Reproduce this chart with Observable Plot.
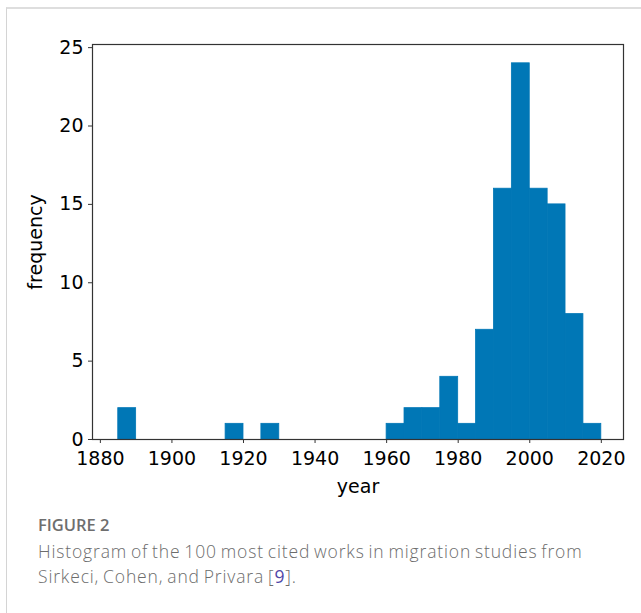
<!DOCTYPE html>
<html>
<head>
<meta charset="utf-8">
<script src="https://cdn.jsdelivr.net/npm/d3@7"></script>
<script src="https://cdn.jsdelivr.net/npm/@observablehq/plot@0.6"></script>
<style>
  html, body { margin: 0; padding: 0; background: #fff; }
  #card { position: absolute; left: 6px; top: 7px; width: 700px; height: 700px;
          border-left: 1px solid #d4d4d4; border-top: 2px solid #dedede; }
  #chart { position: absolute; left: 0; top: 0; }
  #caption { position: absolute; left: 38px; top: 513px; width: 600px;
             font-family: "Open Sans", Lato, sans-serif; color: #7a7a7a; }
  #caption .fig { font-size: 16.5px; font-weight: 600; color: #6e6e6e; line-height: 24px; }
  #caption .txt { font-size: 17.5px; font-weight: 300; line-height: 25px; letter-spacing: 0.85px; word-spacing: -1.5px; margin-top: 2px; color: #6c6c6c; }
  #caption .ref { color: #4f45a8; font-weight: 400; }
</style>
</head>
<body>
<div id="card"></div>
<div id="chart"></div>
<div id="caption">
  <div class="fig">FIGURE 2</div>
  <div class="txt">Histogram of the 100 most cited works in migration studies from<br>Sirkeci, Cohen, and Privara [<span class="ref">9</span>].</div>
</div>
<script>
// Histogram bins (start year of each 5-year bin) and counts
const binStarts = [1885, 1890, 1895, 1900, 1905, 1910, 1915, 1920, 1925, 1930, 1935, 1940, 1945, 1950, 1955,
                   1960, 1965, 1970, 1975, 1980, 1985, 1990, 1995, 2000, 2005, 2010, 2015];
const counts    = [2, 0, 0, 0, 0, 0, 1, 0, 1, 0, 0, 0, 0, 0, 0,
                   1, 2, 2, 4, 1, 7, 16, 24, 16, 15, 8, 1];
const binWidth = 5;
const xTicks = [1880, 1900, 1920, 1940, 1960, 1980, 2000, 2020];
const yTicks = [0, 5, 10, 15, 20, 25];

const bins = binStarts.map((s, i) => ({x1: s, x2: s + binWidth, n: counts[i]}));

const chart = Plot.plot({
  width: 641,
  height: 500,
  marginLeft: 92,
  marginRight: 18,
  marginTop: 44,
  marginBottom: 61,
  style: {fontFamily: "DejaVu Sans", fontSize: "19px", color: "#000", background: "transparent"},
  x: {domain: [1877.8, 2026.2]},
  y: {domain: [0, 25.2]},
  marks: [
    Plot.rectY(bins.filter(d => d.n > 0), {x1: "x1", x2: "x2", y: "n", fill: "#0077b6", stroke: "#0077b6", strokeWidth: 0.8}),
    Plot.frame({stroke: "#333", strokeWidth: 1.2}),
    Plot.axisX({ticks: xTicks, tickFormat: d => String(d), tickSize: 4, tickPadding: 8,
                label: "year", labelAnchor: "center", labelArrow: "none", labelOffset: 53, stroke: "#333"}),
    Plot.axisY({ticks: yTicks, tickFormat: d => String(d), tickSize: 4, tickPadding: 5,
                label: "frequency", labelAnchor: "center", labelArrow: "none", labelOffset: 64, stroke: "#333"})
  ]
});
document.getElementById("chart").appendChild(chart);
</script>
</body>
</html>
